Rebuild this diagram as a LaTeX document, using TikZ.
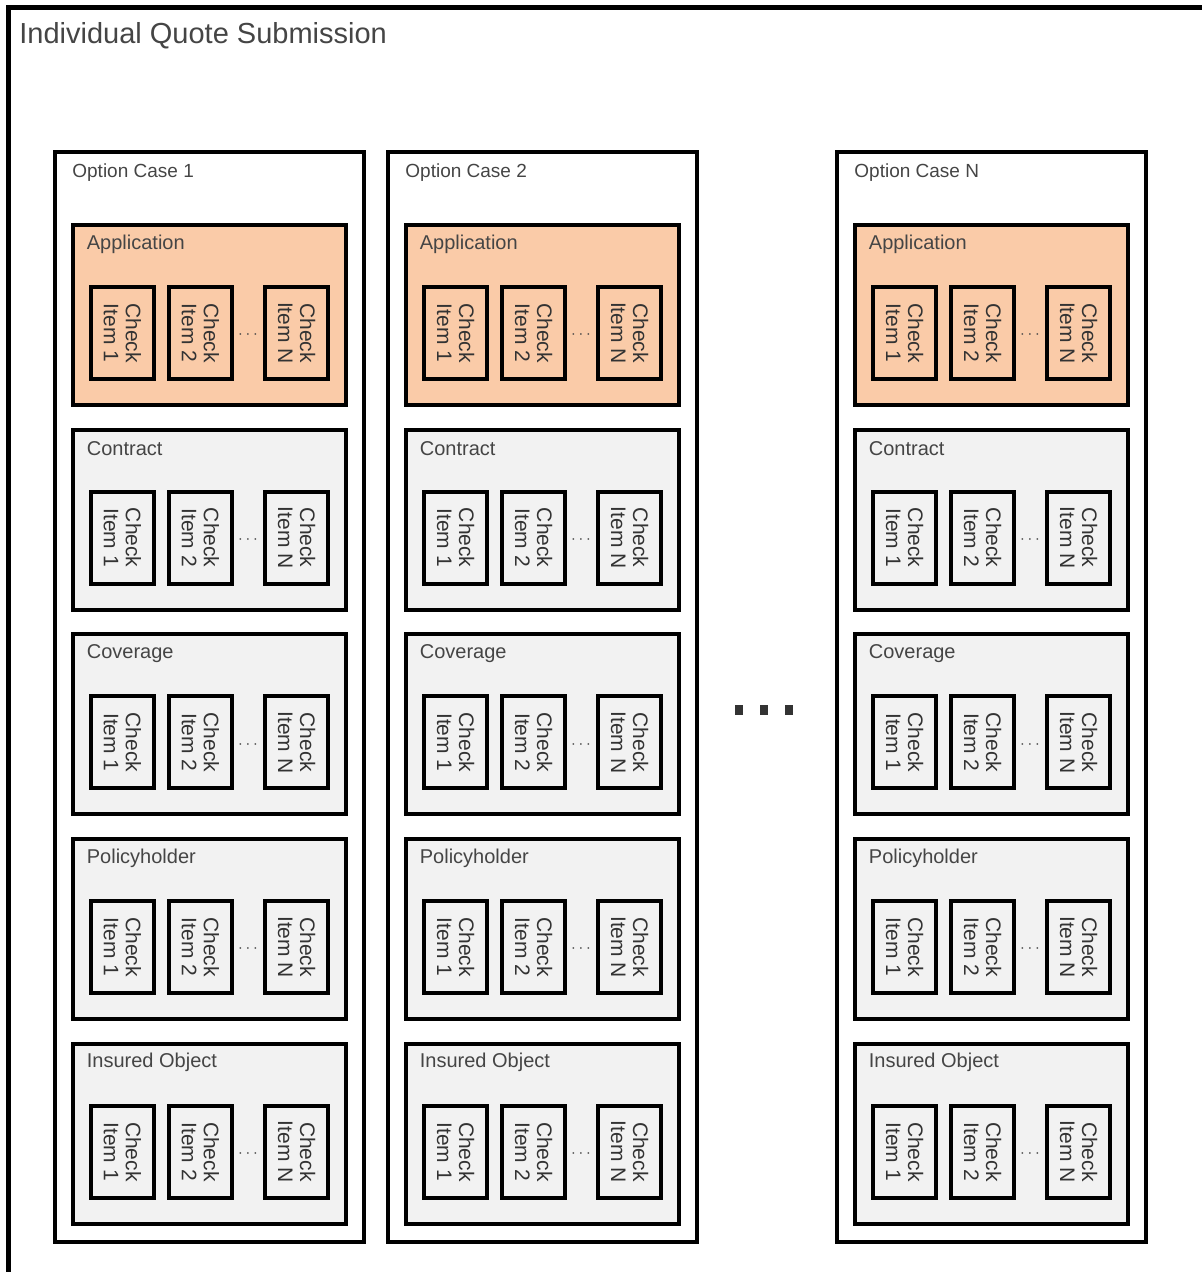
\documentclass[tikz,border=0pt]{standalone}
\usepackage{fontspec}
\setmainfont{Liberation Sans}
\usepackage{xcolor}
\usepackage{tikz}
\usetikzlibrary{positioning}

\definecolor{appfill}{HTML}{FACBA8}
\definecolor{boxfill}{HTML}{F2F2F2}
\definecolor{textgray}{HTML}{454545}
\definecolor{dotgray}{HTML}{333333}

\tikzset{
  casebox/.style={draw=black,line width=2pt,outer sep=0pt,inner sep=0pt,
    minimum width=154.5pt,minimum height=545pt},
  groupbox/.style={draw=black,line width=2pt,outer sep=0pt,inner sep=0pt,
    minimum width=136.5pt,minimum height=90pt},
  checkitem/.style={draw=black,line width=2pt,outer sep=0pt,inner sep=0pt,
    rotate=-90,minimum width=46pt,minimum height=31.5pt,align=center,
    text=dotgray,font=\fontsize{10.5}{11}\selectfont},
  caselabel/.style={anchor=west,inner sep=0pt,text=textgray,font=\fontsize{9.5}{10}\selectfont},
  grouplabel/.style={anchor=west,inner sep=0pt,text=textgray,font=\fontsize{10}{10}\selectfont},
  smalldots/.style={inner sep=0pt,text=textgray,font=\footnotesize}
}

\begin{document}
\begin{tikzpicture}[x=0.5pt,y=-0.5pt]
  \useasboundingbox (0,0) rectangle (1201,1272);
  % outer frame
  \draw[line width=2.5pt] (8,1300) -- (8,8) -- (1230,8);
  \node[anchor=west,inner sep=0pt,text=textgray,font=\fontsize{14.5}{16}\selectfont]
    (title) at (19,36) {Individual Quote Submission};
  % option cases
  \foreach \cx/\cn in {55/1,388/2,837/N}{
    \node[casebox,anchor=north west] (case\cn) at (\cx,152) {};
    \node[caselabel] (case\cn-label) at (\cx+17,173) {Option Case \cn};
    % groups of check items
    \foreach \gi/\gname/\gfill in {0/Application/appfill,1/Contract/boxfill,
        2/Coverage/boxfill,3/Policyholder/boxfill,4/Insured Object/boxfill}{
      \pgfmathsetmacro{\gy}{225+204.7*\gi}
      \node[groupbox,fill=\gfill,anchor=north west] (g\cn-\gi) at (\cx+17.5,\gy) {};
      \node[grouplabel] (g\cn-\gi-label) at (\cx+31.5,\gy+19) {\gname};
      \node[checkitem,fill=\gfill] (g\cn-\gi-c1) at (\cx+67.5,\gy+108) {Check\\Item 1};
      \node[checkitem,fill=\gfill] (g\cn-\gi-c2) at (\cx+145.5,\gy+108) {Check\\Item 2};
      \node[checkitem,fill=\gfill] (g\cn-\gi-cN) at (\cx+241.5,\gy+108) {Check\\Item N};
      \node[smalldots] (g\cn-\gi-dots) at (\cx+193,\gy+110) {$\cdots$};
    }
  }
  % more cases
  \fill[dotgray] (735,705) rectangle (743,715);
  \fill[dotgray] (760,705) rectangle (768,715);
  \fill[dotgray] (785,705) rectangle (793,715);
\end{tikzpicture}
\end{document}
